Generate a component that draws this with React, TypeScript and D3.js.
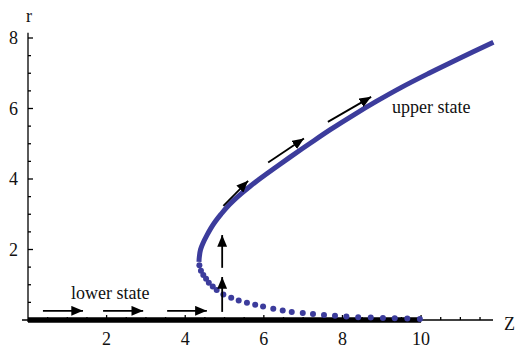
import React, { useEffect, useRef } from 'react';
import * as d3 from 'd3';

// upper (stable) branch
const upperZ = [4.35, 4.36, 4.39, 4.46, 4.55, 4.65, 4.77, 4.91, 5.06, 5.24, 5.44, 5.66, 5.89, 6.26, 6.64, 7.16, 7.69, 8.26, 8.86, 9.5, 10.2, 10.93, 11.84];
const upperR = [1.65, 1.8, 2.0, 2.2, 2.4, 2.6, 2.8, 3.0, 3.2, 3.4, 3.6, 3.8, 4.0, 4.3, 4.6, 5.0, 5.4, 5.8, 6.2, 6.6, 7.0, 7.4, 7.88];

// lower (unstable) branch, dotted
const lowerZ = [4.36, 4.4, 4.46, 4.53, 4.6, 4.7, 4.8, 4.97, 5.17, 5.36, 5.57, 5.78, 5.98, 6.24, 6.48, 6.71, 6.99, 7.25, 7.53, 7.81, 8.1, 8.4, 8.72, 9.03, 9.33, 9.65, 9.97];
const lowerR = [1.55, 1.4, 1.28, 1.17, 1.06, 0.95, 0.85, 0.72, 0.63, 0.55, 0.49, 0.43, 0.38, 0.32, 0.27, 0.23, 0.2, 0.17, 0.14, 0.12, 0.1, 0.08, 0.07, 0.06, 0.05, 0.04, 0.03];

// r = 0 state (thick line on the axis)
const zeroStateZ = [0, 10];

// arrows: [z0, r0, z1, r1]
const arrows = [
    [0.38, 0.26, 1.4, 0.26],
    [1.91, 0.26, 2.93, 0.26],
    [3.54, 0.26, 4.55, 0.26],
    [4.94, 0.23, 4.94, 1.22],
    [4.94, 1.48, 4.94, 2.41],
    [4.97, 3.24, 5.6, 3.95],
    [6.11, 4.47, 7.02, 5.15],
    [7.63, 5.62, 8.73, 6.33],
];

const xTicks = [2, 4, 6, 8, 10];
const yTicks = [2, 4, 6, 8];

export default function App() {
    const ref = useRef<SVGSVGElement>(null);

    useEffect(() => {
        const width = 517, height = 348;
        const svg = d3.select(ref.current);
        svg.selectAll('*').remove();

        const x = d3.scaleLinear().domain([0, 11.83]).range([28, 493]);
        const y = d3.scaleLinear().domain([0, 8]).range([320, 38]);
        const blue = '#3c3c9c';
        const font = "'Liberation Serif'";

        svg.attr('width', width).attr('height', height);

        svg.append('defs').append('marker')
            .attr('id', 'head')
            .attr('viewBox', '0 0 10 10')
            .attr('refX', 10).attr('refY', 5)
            .attr('markerWidth', 6.5).attr('markerHeight', 5.5)
            .attr('markerUnits', 'strokeWidth')
            .attr('orient', 'auto')
            .attr('preserveAspectRatio', 'none')
            .append('path').attr('d', 'M0,0L10,5L0,10z').attr('fill', '#000');

        // axes
        const ax = svg.append('g').attr('stroke', '#000').attr('stroke-width', 1.3);
        ax.append('line').attr('x1', x(0) - 6).attr('x2', x(11.83)).attr('y1', y(0)).attr('y2', y(0));
        ax.append('line').attr('x1', x(0)).attr('x2', x(0)).attr('y1', y(0) + 2).attr('y2', y(8.15));

        const xMinor = d3.range(0.5, 11.83, 0.5);
        ax.selectAll('.xt').data(xMinor).enter().append('line')
            .attr('x1', d => x(d)).attr('x2', d => x(d))
            .attr('y1', y(0)).attr('y2', d => y(0) - (d % 2 === 0 ? 5 : 3));
        const yMinor = d3.range(0.5, 8.01, 0.5);
        ax.selectAll('.yt').data(yMinor).enter().append('line')
            .attr('y1', d => y(d)).attr('y2', d => y(d))
            .attr('x1', x(0)).attr('x2', d => x(0) + (d % 2 === 0 ? 5 : 3));

        const lab = svg.append('g');
        const txt = (sel: any) => sel.style('font-family', font).style('font-size', '18px').attr('fill', '#111');
        lab.selectAll('.xl').data(xTicks).enter().append('text')
            .attr('x', d => x(d)).attr('y', 345).attr('text-anchor', 'middle').text(d => d).call(txt);
        lab.selectAll('.yl').data(yTicks).enter().append('text')
            .attr('x', x(0) - 10).attr('y', d => y(d) + 6).attr('text-anchor', 'end').text(d => d).call(txt);
        lab.append('text').attr('x', 29).attr('y', 22).attr('text-anchor', 'middle').text('r').call(txt);
        lab.append('text').attr('x', 504).attr('y', 330).text('Z').call(txt);
        lab.append('text').attr('x', 71).attr('y', 299).text('lower state').call(txt);
        lab.append('text').attr('x', 392).attr('y', 113).text('upper state').call(txt);

        // r = 0 state
        svg.append('line')
            .attr('x1', x(zeroStateZ[0])).attr('x2', x(zeroStateZ[1]))
            .attr('y1', y(0)).attr('y2', y(0))
            .attr('stroke', '#000').attr('stroke-width', 5.5);

        // upper branch
        const line = d3.line<number>()
            .x((_, i) => x(upperZ[i]))
            .y((_, i) => y(upperR[i]))
            .curve(d3.curveCatmullRom);
        svg.append('path')
            .attr('d', line(upperR))
            .attr('fill', 'none').attr('stroke', blue).attr('stroke-width', 5);

        // lower branch dots
        svg.append('g').attr('fill', blue)
            .selectAll('circle').data(lowerR).enter().append('circle')
            .attr('cx', (_, i) => x(lowerZ[i]))
            .attr('cy', d => y(d))
            .attr('r', 3);

        // arrows
        svg.append('g')
            .selectAll('line').data(arrows).enter().append('line')
            .attr('x1', d => x(d[0])).attr('y1', d => y(d[1]))
            .attr('x2', d => x(d[2])).attr('y2', d => y(d[3]))
            .attr('stroke', '#000').attr('stroke-width', 1.8)
            .attr('marker-end', 'url(#head)');
    }, []);

    return (
        <svg ref={ref} style={{ position: 'absolute', left: 0, top: 0, background: '#fff' }} />
    );
}
